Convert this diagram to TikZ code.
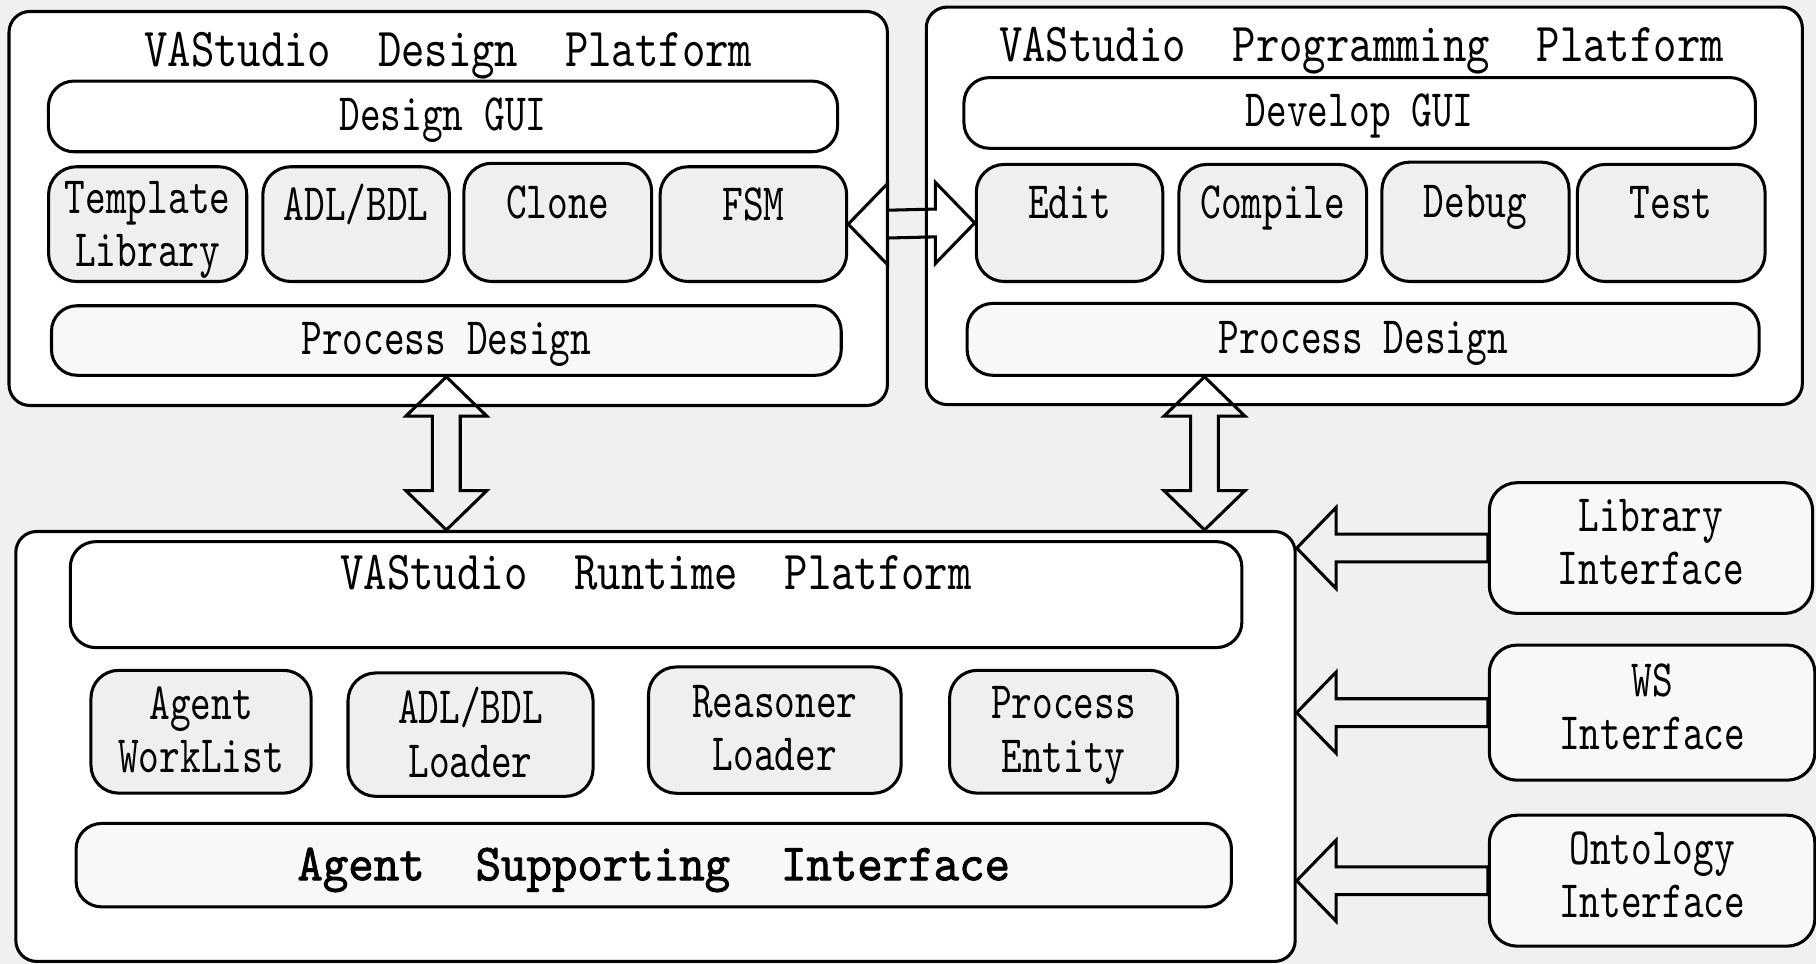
\documentclass[tikz,border=0pt]{standalone}
\usepackage{fontspec}
\usepackage{xcolor}
\usepackage{tikz}
\usetikzlibrary{positioning, calc}
\newfontfamily\modfont{lmmono10-regular.otf}[FakeStretch=0.75]
\newfontfamily\headfont{lmmono10-regular.otf}[FakeStretch=0.81]
\newfontfamily\asifont{lmmono10-regular.otf}[FakeStretch=0.93, FakeBold=1.6]
\definecolor{canvasgray}{RGB}{240, 240, 240}
\definecolor{modulegray}{RGB}{239, 239, 239}
\definecolor{barwhite}{RGB}{248, 248, 248}
\tikzset{
    platform/.style={draw, fill=white, rounded corners=0.18cm},
    headtext/.style={font=\headfont\fontsize{13.5pt}{14pt}\selectfont},
    guibar/.style={draw, fill=white, rounded corners=0.22cm, text height=0.3cm, text depth=0.06cm,
        font=\modfont\fontsize{12.9pt}{13.1pt}\selectfont},
    module/.style={draw, fill=modulegray, rounded corners=0.24cm, align=center,
        text height=0.3cm, text depth=0.37cm, font=\modfont\fontsize{12.9pt}{13.1pt}\selectfont},
    twoline/.style={draw, fill=modulegray, rounded corners=0.24cm, align=center,
        text depth=0cm, font=\modfont\fontsize{12.9pt}{13.1pt}\selectfont},
    procbar/.style={draw, fill=barwhite, rounded corners=0.22cm, text height=0.3cm, text depth=0.06cm,
        font=\modfont\fontsize{12.9pt}{13.1pt}\selectfont},
    iface/.style={draw, fill=barwhite, rounded corners=0.24cm, align=center,
        text depth=0.1cm, font=\modfont\fontsize{12.9pt}{13.1pt}\selectfont},
    blockarrow/.style={draw, line join=miter}
}

\begin{document}
\begin{tikzpicture}[x=0.01cm, y=-0.01cm, line width=0.75pt]
        \useasboundingbox (0,0) rectangle (1568,832);
        \fill[canvasgray] (0,0) rectangle (1568,832);
        % Arrow sizes
        \def\hl{34}
        \def\hw{35}
        \def\sw{12}

        % Design platform
        \node[platform, minimum width=7.58cm, minimum height=3.40cm] (design) at (387,180) {};
        \node[headtext] (dtitle) at (387,48) {VAStudio\ \ Design\ \ Platform};
        \node[guibar, minimum width=6.81cm, minimum height=0.61cm] (dgui) at (382.5,100.5) {Design GUI};
        \node[twoline, minimum width=1.71cm, minimum height=0.99cm] (tmpl) at (127.5,193.5) {Template\\Library};
        \node[module, minimum width=1.61cm, minimum height=0.99cm] (adl) at (307.5,193.5) {ADL/BDL};
        \node[module, minimum width=1.62cm, minimum height=1.02cm] (clone) at (481.6,192) {Clone};
        \node[module, minimum width=1.61cm, minimum height=0.99cm] (fsm) at (650.5,193.5) {FSM};
        \node[procbar, minimum width=6.815cm, minimum height=0.60cm] (pd1) at (385.4,294) {Process Design};

        % Programming platform
        \node[platform, minimum width=7.56cm, minimum height=3.43cm] (prog) at (1178,177.7) {};
        \node[headtext] (ptitle) at (1175.5,44) {VAStudio\ \ Programming\ \ Platform};
        \node[guibar, minimum width=6.83cm, minimum height=0.61cm] (devgui) at (1174,97.5) {Develop GUI};
        \node[module, minimum width=1.61cm, minimum height=1.01cm] (edit) at (923.5,192.5) {Edit};
        \node[module, minimum width=1.62cm, minimum height=1.01cm] (compile) at (1099,192.5) {Compile};
        \node[module, minimum width=1.615cm, minimum height=1.03cm] (debug) at (1274,191.5) {Debug};
        \node[module, minimum width=1.62cm, minimum height=1.01cm] (test) at (1443,192.5) {Test};
        \node[procbar, minimum width=6.835cm, minimum height=0.62cm] (pd2) at (1177,293) {Process Design};

        % Runtime platform
        \node[platform, minimum width=11.04cm, minimum height=3.71cm] (runtime) at (566,644.5) {};
        \node[guibar, minimum width=10.11cm, minimum height=0.87cm, text height=0.3cm, text depth=0.38cm,
            font=\headfont\fontsize{13.5pt}{14pt}\selectfont] (rtitle) at (566.5,513.4) {VAStudio\ \ Runtime\ \ Platform};
        \node[twoline, minimum width=1.90cm, minimum height=1.06cm, text depth=0.04cm] (worklist) at (173.6,631.8) {Agent\\WorkList};
        \node[twoline, minimum width=2.115cm, minimum height=1.065cm, text depth=0.04cm] (adlload) at (406.3,634.3) {ADL/BDL\\Loader};
        \node[twoline, minimum width=2.18cm, minimum height=1.09cm, text depth=0.04cm] (reasoner) at (669,630.4) {Reasoner\\Loader};
        \node[twoline, minimum width=1.967cm, minimum height=1.06cm, text depth=0.04cm] (entity) at (918.3,631.8) {Process\\Entity};
        \node[procbar, minimum width=9.97cm, minimum height=0.72cm, text height=0.3cm, text depth=0.04cm,
            font=\asifont\fontsize{12.8pt}{14pt}\selectfont] (asi) at (564.5,747) {Agent\ \ Supporting\ \ Interface};

        % Interfaces
        \node[iface, minimum width=2.79cm, minimum height=1.128cm] (libif) at (1425.5,473.2) {Library\\Interface};
        \node[iface, minimum width=2.81cm, minimum height=1.166cm] (wsif) at (1426.5,615.3) {WS\\Interface};
        \node[iface, minimum width=2.81cm, minimum height=1.13cm] (ontif) at (1426.5,760.4) {Ontology\\Interface};

        % Arrows between platforms
        \draw[blockarrow] (fsm.east) -- ++(\hl,-\hw) -- ++(0,\hw-\sw) -- ($(edit.west)+(-\hl,-\sw)$) -- ++(0,\sw-\hw)
            -- (edit.west) -- ++(-\hl,\hw) -- ++(0,\sw-\hw) -- ($(fsm.east)+(\hl,\sw)$) -- ++(0,\hw-\sw) -- cycle;
        \coordinate (up2) at ($(pd2.south)+(-137,0)$);
        \coordinate (down1) at (pd1.south |- runtime.north);
        \coordinate (down2) at (up2 |- runtime.north);
        \draw[blockarrow] (pd1.south) -- ++(\hw,\hl) -- ++(\sw-\hw,0) -- ($(down1)+(\sw,-\hl)$) -- ++(\hw-\sw,0)
            -- (down1) -- ++(-\hw,-\hl) -- ++(\hw-\sw,0) -- ($(pd1.south)+(-\sw,\hl)$) -- ++(\sw-\hw,0) -- cycle;
        \draw[blockarrow] (up2) -- ++(\hw,\hl) -- ++(\sw-\hw,0) -- ($(down2)+(\sw,-\hl)$) -- ++(\hw-\sw,0)
            -- (down2) -- ++(-\hw,-\hl) -- ++(\hw-\sw,0) -- ($(up2)+(-\sw,\hl)$) -- ++(\sw-\hw,0) -- cycle;

        % Arrows from interfaces
        \coordinate (libtip) at (runtime.east |- libif.west);
        \coordinate (wstip) at (runtime.east |- wsif.west);
        \coordinate (onttip) at (runtime.east |- ontif.west);
        \draw[blockarrow] (libtip) -- ++(\hl,-\hw) -- ++(0,\hw-\sw) -- ($(libif.west)+(0,-\sw)$)
            -- ($(libif.west)+(0,\sw)$) -- ($(libtip)+(\hl,\sw)$) -- ++(0,\hw-\sw) -- cycle;
        \draw[blockarrow] (wstip) -- ++(\hl,-\hw) -- ++(0,\hw-\sw) -- ($(wsif.west)+(0,-\sw)$)
            -- ($(wsif.west)+(0,\sw)$) -- ($(wstip)+(\hl,\sw)$) -- ++(0,\hw-\sw) -- cycle;
        \draw[blockarrow] (onttip) -- ++(\hl,-\hw) -- ++(0,\hw-\sw) -- ($(ontif.west)+(0,-\sw)$)
            -- ($(ontif.west)+(0,\sw)$) -- ($(onttip)+(\hl,\sw)$) -- ++(0,\hw-\sw) -- cycle;
    \end{tikzpicture}
\end{document}
